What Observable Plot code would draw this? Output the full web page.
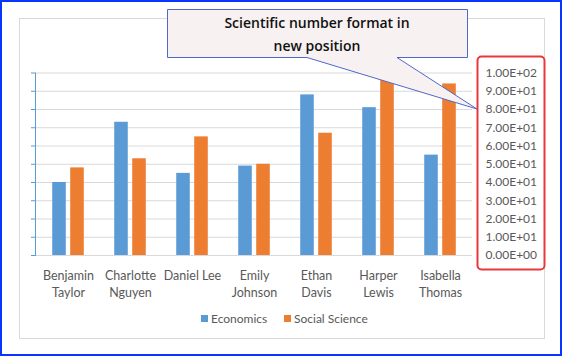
<!DOCTYPE html>
<html><head><meta charset="utf-8">
<script src="https://cdn.jsdelivr.net/npm/d3@7"></script>
<script src="https://cdn.jsdelivr.net/npm/@observablehq/plot@0.6"></script>
<style>body{margin:0;background:#fff;} svg{display:block;}</style>
</head><body><div id="chart"></div>
<script>
const categories = ["Benjamin Taylor","Charlotte Nguyen","Daniel Lee","Emily Johnson","Ethan Davis","Harper Lewis","Isabella Thomas"];
const categoryLabels = ["Benjamin\nTaylor","Charlotte\nNguyen","Daniel Lee","Emily\nJohnson","Ethan\nDavis","Harper\nLewis","Isabella\nThomas"];
const economics = [40, 73, 45, 49, 88, 81, 55];
const socialScience = [48, 53, 65, 50, 67, 96, 94];
const seriesNames = ["Economics", "Social Science"];
const seriesColors = ["#5b9bd5", "#ed7d31"];
const yTicks = [0, 10, 20, 30, 40, 50, 60, 70, 80, 90, 100];
const calloutLines = ["Scientific number format in", "new position"];

const rows = categories.map((c, i) => ({name: c, economics: economics[i], social: socialScience[i]}));
const sci = d => {
  const [m, e] = d.toExponential(2).split("e");
  return m + "E" + e[0] + e.slice(1).padStart(2, "0");
};
const half = 437 / categories.length / 2;

const svg = Plot.plot({
  width: 564, height: 357,
  marginLeft: 35, marginRight: 92, marginTop: 72.5, marginBottom: 102,
  style: {fontFamily: "Lato, sans-serif", background: "transparent", overflow: "visible"},
  x: {domain: categories, padding: 0},
  y: {domain: [0, 100]},
  marks: [
    Plot.gridY(yTicks, {stroke: "#d9d9d9", strokeOpacity: 1}),
    Plot.barY(rows, {x: "name", y: "economics", fill: seriesColors[0], insetLeft: half - 16, insetRight: half + 2}),
    Plot.barY(rows, {x: "name", y: "social", fill: seriesColors[1], insetLeft: half + 2, insetRight: half - 16}),
    Plot.axisY(yTicks, {anchor: "left", tickSize: 4, tickFormat: () => "", stroke: "#5b9bd5", label: null}),
    Plot.frame({anchor: "left", stroke: "#5b9bd5"}),
    Plot.axisY(yTicks, {anchor: "right", tickSize: 0, tickPadding: 13, tickFormat: sci, fontSize: 12, color: "#595959", label: null}),
    Plot.axisX({tickSize: 0, tickPadding: 13, tickFormat: d => categoryLabels[categories.indexOf(d)], fontSize: 12.5, lineHeight: 1.33, color: "#595959", label: null})
  ]
});

const s = d3.select(svg);
// chart area frame
s.insert("rect", ":first-child").attr("x", 19.5).attr("y", 18.5).attr("width", 525).attr("height", 320)
  .attr("fill", "#fff").attr("stroke", "#d9d9d9");
// legend
const lg = s.append("g").attr("font-family", "Lato, sans-serif").attr("font-size", 12).attr("fill", "#595959")
  .attr("text-anchor", "start");
const legendX = [201, 284];
seriesNames.forEach((n, i) => {
  lg.append("rect").attr("x", legendX[i]).attr("y", 315).attr("width", 7).attr("height", 7).attr("fill", seriesColors[i]);
  lg.append("text").attr("x", legendX[i] + 10).attr("y", 322.5).attr("text-anchor", "start").text(n);
});
// red box around right axis
s.append("rect").attr("x", 477.5).attr("y", 56.5).attr("width", 67).attr("height", 213).attr("rx", 4)
  .attr("fill", "none").attr("stroke", "#e8383d").attr("stroke-width", 2);
// callout
s.append("path")
  .attr("d", "M167.5,9.5 H467.5 V57.5 H397 L477,109 L307,57.5 H167.5 Z")
  .attr("fill", "#f7f1f1").attr("stroke", "#5268c8").attr("stroke-width", 1);
const ct = s.append("g").attr("font-family", "'Comic Sans MS', 'Open Sans', sans-serif").attr("font-size", 14)
  .attr("font-weight", 600).attr("fill", "#111").attr("text-anchor", "middle");
calloutLines.forEach((t, i) => ct.append("text").attr("x", 317).attr("y", 28 + i * 23).text(t));
// outer border
s.append("rect").attr("x", 1).attr("y", 1).attr("width", 560).attr("height", 354)
  .attr("fill", "none").attr("stroke", "#0a34ff").attr("stroke-width", 2);

document.getElementById("chart").appendChild(svg);
</script>
</body></html>
